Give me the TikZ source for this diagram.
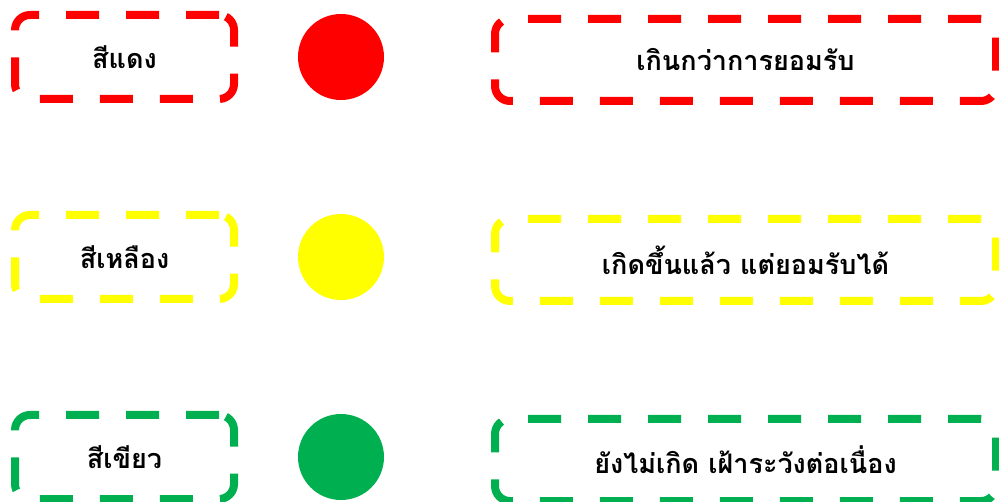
\documentclass[tikz,border=0pt]{standalone}
\usepackage{fontspec}
\newfontfamily\thaifont[Script=Thai]{Loma}
\usepackage{xcolor}
\usepackage{tikz}
\usetikzlibrary{positioning}
\definecolor{RojoNivel}{RGB}{255,0,0}
\definecolor{AmarilloNivel}{RGB}{255,255,0}
\definecolor{VerdeNivel}{RGB}{0,176,80}

\begin{document}
\begin{tikzpicture}[x=1pt,y=-1pt,
  nivelbox/.style={draw=#1,line width=8pt,dash pattern=on 33pt off 27pt,
    rounded corners=15pt,inner sep=0pt,
    font=\thaifont\bfseries\fontsize{27}{32}\selectfont},
  colorbox/.style={nivelbox=#1,minimum width=219pt,minimum height=84pt},
  textbox/.style={nivelbox=#1,minimum width=501pt,minimum height=82pt},
  luz/.style={circle,fill=#1,inner sep=0pt,minimum size=86pt}]
  \useasboundingbox (0,0) rectangle (999,502);
  % rojo
  \node[colorbox=RojoNivel] (rojo) at (124.5,57) {สีแดง};
  \node[luz=RojoNivel] (luzRojo) at (341,57) {};
  \node[textbox=RojoNivel] (txtRojo) at (745.5,60) {เกินกว่าการยอมรับ};
  % amarillo
  \node[colorbox=AmarilloNivel] (amarillo) at (124.5,257) {สีเหลือง};
  \node[luz=AmarilloNivel] (luzAmarillo) at (341,257) {};
  \node[textbox=AmarilloNivel] (txtAmarillo) at (745.5,260) {เกิดขึ้นแล้ว แต่ยอมรับได้};
  % verde
  \node[colorbox=VerdeNivel] (verde) at (124.5,457) {สีเขียว};
  \node[luz=VerdeNivel] (luzVerde) at (341,457) {};
  \node[textbox=VerdeNivel] (txtVerde) at (745.5,460) {ยังไม่เกิด เฝ้าระวังต่อเนื่อง};
\end{tikzpicture}
\end{document}
